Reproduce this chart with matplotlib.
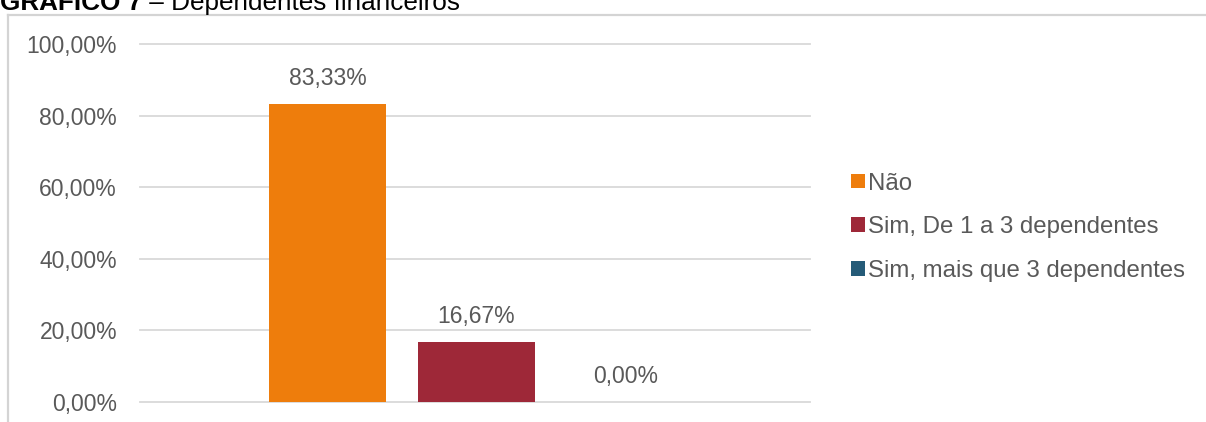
import matplotlib
matplotlib.use("Agg")
import matplotlib.pyplot as plt
from matplotlib.lines import Line2D
from matplotlib.ticker import FixedLocator

plt.rcParams['font.family'] = ['Liberation Sans', 'DejaVu Sans']

categories = ["Não", "Sim, De 1 a 3 dependentes", "Sim, mais que 3 dependentes"]
values = [83.33, 16.67, 0.00]
colors = ["#EE7D0C", "#9E2838", "#255B78"]
y_ticks = [0, 20, 40, 60, 80, 100]
y_tick_labels = ["0,00%", "20,00%", "40,00%", "60,00%", "80,00%", "100,00%"]
value_labels = ["83,33%", "16,67%", "0,00%"]

W, H = 1206, 422
fig = plt.figure(figsize=(W / 100, H / 100), dpi=100)

ax = fig.add_axes([140 / W, (H - 402) / H, (810 - 140) / W, (402 - 44) / H])
positions = [-1, 0, 1]
bars = []
for pos, val, col, lab in zip(positions, values, colors, categories):
    b = ax.bar(pos, val, width=0.785, color=col, label=lab, zorder=3)
    bars.append(b)

ax.set_xlim(-2.258, 2.238)
ax.set_ylim(0, 100)
ax.yaxis.set_major_locator(FixedLocator(y_ticks))
ax.set_yticklabels(y_tick_labels)
ax.set_xticks([])
for s in ax.spines.values():
    s.set_visible(False)
ax.tick_params(axis='y', length=0, pad=16.5, labelsize=16.5, labelcolor="#595959")
for yv in y_ticks:
    ax.axhline(yv, color="#D9D9D9", linewidth=1.3, zorder=1, clip_on=False)

for pos, val, txt in zip(positions, values, value_labels):
    ax.annotate(txt, (pos, val), xytext=(0, 10), textcoords="offset points",
                ha="center", va="bottom", fontsize=16.5, color="#595959")

leg = fig.legend(handles=[b[0] for b in bars], labels=categories,
                 loc="upper left", bbox_to_anchor=(841 / W, 1 - 163 / H),
                 frameon=False, fontsize=17.3, handlelength=0.6, handleheight=0.55,
                 handletextpad=0.12, labelspacing=0.9, borderaxespad=0)
for t in leg.get_texts():
    t.set_color("#595959")

# outer frame of the chart panel
fig.add_artist(Line2D([8 / W, 1], [1 - 14.5 / H, 1 - 14.5 / H], transform=fig.transFigure,
                      color="#D4D4D4", linewidth=1.6))
fig.add_artist(Line2D([8 / W, 8 / W], [0, 1 - 14.5 / H], transform=fig.transFigure,
                      color="#D4D4D4", linewidth=1.6))

# figure caption above the panel
t1 = fig.text(0, 1 - 10 / H, "GRÁFICO 7", fontsize=18.8, fontweight="bold",
              color="black", ha="left", va="baseline")
fig.canvas.draw()
bb = t1.get_window_extent()
fig.text(bb.x1 / W, 1 - 10 / H, " – Dependentes financeiros", fontsize=18.8,
         color="black", ha="left", va="baseline")

fig.savefig("out.png", dpi=100, facecolor="white")
